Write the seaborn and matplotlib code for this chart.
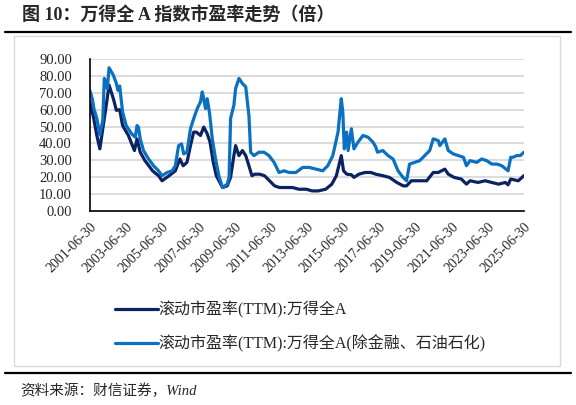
import matplotlib
matplotlib.use('Agg')
import matplotlib.pyplot as plt
import matplotlib.dates as mdates
from matplotlib.lines import Line2D
from matplotlib.patches import Rectangle
import pandas as pd
import seaborn as sns

# Dane (PE TTM)
dates_all = ['2001-07-02', '2001-09-15', '2001-11-15', '2002-01-15', '2002-03-15', '2002-05-15',
             '2002-07-20', '2002-10-15', '2002-12-15', '2003-02-20', '2003-04-20', '2003-08-15',
             '2003-12-15', '2004-02-05', '2004-04-10', '2004-07-15', '2004-12-15', '2005-04-15',
             '2005-06-25', '2005-11-15', '2006-03-20', '2006-06-20', '2006-08-25', '2006-11-10',
             '2007-01-20', '2007-03-25', '2007-05-20', '2007-08-10', '2007-10-15', '2007-12-25',
             '2008-02-20', '2008-04-25', '2008-06-25', '2008-10-28', '2009-02-01', '2009-04-10',
             '2009-06-15', '2009-07-20', '2009-09-25', '2009-12-05', '2010-02-10', '2010-04-15',
             '2010-06-15', '2010-08-15', '2010-11-15', '2011-02-25', '2011-06-05', '2011-09-15',
             '2011-12-25', '2012-04-15', '2012-09-15', '2013-01-15', '2013-06-15', '2013-10-15',
             '2014-02-15', '2014-07-15', '2014-11-15', '2015-02-15', '2015-05-25', '2015-07-10',
             '2015-09-15', '2015-12-15', '2016-02-05', '2016-05-15', '2016-09-15', '2017-01-15',
             '2017-04-20', '2017-09-10', '2018-01-20', '2018-06-20', '2018-10-25', '2019-01-03',
             '2019-04-10', '2019-09-15', '2020-02-15', '2020-06-25', '2020-10-05', '2021-02-15',
             '2021-04-25', '2021-08-20', '2022-01-15', '2022-04-27', '2022-07-10', '2022-12-15',
             '2023-05-10', '2023-09-20', '2024-02-05', '2024-06-20', '2024-08-15', '2024-10-08',
             '2025-03-10', '2025-06-30']
pe_all = [64.0, 54.6, 44.7, 36.8, 48.7, 60.6,
          74.5, 66.5, 59.6, 60.0, 50.6, 44.7,
          35.8, 42.7, 34.8, 29.8, 23.8, 20.9,
          17.9, 20.9, 23.8, 30.8, 26.8, 28.8,
          38.7, 46.7, 46.7, 44.7, 49.7, 45.7,
          40.7, 28.8, 20.9, 13.9, 14.9, 20.0,
          32.8, 38.7, 32.8, 35.8, 32.8, 26.8,
          20.9, 21.8, 21.8, 20.9, 17.9, 14.9,
          13.9, 13.9, 13.9, 12.9, 12.9, 11.9,
          11.9, 12.9, 15.9, 20.9, 32.8, 23.8,
          21.8, 21.5, 19.9, 21.8, 22.8, 22.8,
          21.8, 20.9, 19.9, 16.9, 14.9, 14.9,
          17.9, 17.9, 17.9, 22.8, 22.8, 24.8,
          21.8, 19.9, 18.9, 15.9, 17.9, 16.9,
          17.9, 16.9, 15.9, 16.9, 15.5, 18.9,
          17.9, 20.9]

dates_ex = ['2001-07-02', '2001-08-15', '2001-09-15', '2001-11-15', '2002-01-15', '2002-03-15',
            '2002-04-15', '2002-05-15', '2002-06-15', '2002-07-20', '2002-10-15', '2002-12-15',
            '2003-01-15', '2003-02-20', '2003-03-20', '2003-04-20', '2003-07-01', '2003-10-20',
            '2004-01-01', '2004-02-05', '2004-03-05', '2004-04-10', '2004-06-15', '2004-09-25',
            '2005-01-05', '2005-04-15', '2005-06-25', '2005-10-05', '2006-01-15', '2006-03-20',
            '2006-05-25', '2006-07-25', '2006-09-05', '2006-11-10', '2007-01-20', '2007-03-25',
            '2007-06-05', '2007-08-10', '2007-09-15', '2007-10-15', '2007-11-20', '2007-12-25',
            '2008-02-10', '2008-04-05', '2008-06-10', '2008-08-15', '2008-10-28', '2009-02-01',
            '2009-03-10', '2009-04-10', '2009-06-15', '2009-07-20', '2009-09-25', '2009-12-05',
            '2010-02-10', '2010-03-15', '2010-04-15', '2010-05-20', '2010-07-25', '2010-11-05',
            '2011-02-15', '2011-05-25', '2011-09-05', '2011-12-15', '2012-03-25', '2012-07-05',
            '2012-11-20', '2013-04-05', '2013-08-15', '2014-01-01', '2014-05-15', '2014-08-25',
            '2014-12-05', '2015-03-20', '2015-05-25', '2015-06-25', '2015-07-25', '2015-09-10',
            '2015-10-10', '2015-12-15', '2016-02-05', '2016-04-25', '2016-08-05', '2016-11-15',
            '2017-02-25', '2017-04-20', '2017-05-25', '2017-09-10', '2017-12-25', '2018-04-05',
            '2018-07-15', '2018-10-25', '2019-01-03', '2019-03-05', '2019-06-15', '2019-09-25',
            '2020-01-05', '2020-04-15', '2020-06-25', '2020-10-05', '2020-11-05', '2021-02-15',
            '2021-04-25', '2021-08-05', '2021-11-15', '2022-02-25', '2022-04-27', '2022-07-10',
            '2022-11-20', '2023-03-01', '2023-06-10', '2023-09-20', '2024-01-01', '2024-04-10',
            '2024-08-15', '2024-10-08', '2024-11-20', '2025-02-10', '2025-04-20', '2025-06-30']
pe_ex = [71.0, 66.5, 60.8, 54.8, 45.0, 53.6,
         78.5, 76.0, 72.5, 84.8, 80.4, 75.5,
         71.5, 74.0, 66.5, 58.6, 50.6, 45.7,
         43.7, 50.6, 49.6, 42.7, 35.8, 30.8,
         26.8, 23.8, 20.9, 22.8, 23.8, 26.8,
         38.7, 39.7, 33.8, 34.8, 48.7, 54.6,
         60.6, 64.6, 70.5, 66.5, 60.6, 66.5,
         57.8, 42.7, 30.8, 20.9, 13.9, 15.9,
         20.0, 54.8, 62.6, 72.5, 78.5, 75.5,
         73.5, 64.6, 56.6, 34.8, 32.8, 34.8,
         34.8, 32.8, 28.8, 22.8, 23.8, 22.8,
         22.8, 25.8, 25.8, 24.8, 23.8, 26.8,
         32.8, 46.7, 66.5, 58.6, 36.8, 46.7,
         35.8, 48.7, 36.8, 40.7, 44.7, 43.7,
         40.7, 38.0, 34.8, 35.8, 32.8, 30.8,
         23.8, 19.9, 17.9, 27.8, 28.8, 29.8,
         32.8, 35.8, 42.7, 41.7, 38.7, 42.7,
         35.8, 33.8, 32.8, 31.8, 26.8, 29.8,
         28.8, 30.8, 29.8, 27.8, 27.8, 26.8,
         23.8, 31.8, 31.8, 32.8, 32.8, 34.8]

label_all = '滚动市盈率(TTM):万得全A'
label_ex = '滚动市盈率(TTM):万得全A(除金融、石油石化)'
tick_dates = [f'{y}-06-30' for y in range(2001, 2026, 2)]
y_ticks = [0, 10, 20, 30, 40, 50, 60, 70, 80, 90]

df_all = pd.DataFrame({'date': pd.to_datetime(dates_all), 'pe': pe_all})
df_ex = pd.DataFrame({'date': pd.to_datetime(dates_ex), 'pe': pe_ex})

sns.set_theme(style='white')
plt.rcParams['font.family'] = ['Liberation Serif', 'Noto Sans CJK SC']
mixed = ['Liberation Serif', 'Noto Sans CJK SC']

W, H = 576, 405
fig = plt.figure(figsize=(W / 100, H / 100), dpi=100)
ax = fig.add_axes([90 / W, 1 - 211 / H, (524 - 90) / W, (211 - 59) / H])

sns.lineplot(data=df_all, x='date', y='pe', ax=ax, color='#0b2363', lw=2.3, label=label_all)
sns.lineplot(data=df_ex, x='date', y='pe', ax=ax, color='#0a70c2', lw=2.3, label=label_ex)

ax.set_xlim(pd.Timestamp('2001-06-30'), pd.Timestamp('2025-07-03'))
ax.set_ylim(0, 90)
ax.set_yticks(y_ticks)
ax.set_yticklabels([f'{v:.2f}' for v in y_ticks], fontsize=10.5)
ax.set_xticks(pd.to_datetime(tick_dates))
ax.xaxis.set_major_formatter(mdates.DateFormatter('%Y-%m-%d'))
plt.setp(ax.get_xticklabels(), rotation=45, ha='right', rotation_mode='anchor', fontsize=10)
ax.set_xlabel('')
ax.set_ylabel('')
ax.yaxis.grid(True, color='#d9d9d9', lw=1.3)
ax.xaxis.grid(False)
ax.set_axisbelow(True)
for s in ['top', 'right']:
    ax.spines[s].set_visible(False)
for s in ['left', 'bottom']:
    ax.spines[s].set_color('black')
    ax.spines[s].set_linewidth(1.2)
ax.tick_params(axis='y', direction='out', length=4, width=1, color='black', pad=9)
ax.tick_params(axis='x', direction='out', length=4, width=1, color='black', pad=3)

handles, labels = ax.get_legend_handles_labels()
ax.legend_.remove()
fig.legend(handles, labels, loc='center left', bbox_to_anchor=(107 / W, 1 - 327 / H),
           frameon=False, handlelength=2.7, handletextpad=0.0, labelspacing=1.0, borderpad=0,
           prop={'family': mixed, 'size': 11.5})

# Ramka i linie
fig.add_artist(Rectangle((14 / W, 1 - 366 / H), (560 - 14) / W, (366 - 36) / H,
                         fill=False, edgecolor='#d9d9d9', lw=1, transform=fig.transFigure))
fig.add_artist(Line2D([5 / W, 571 / W], [1 - 32 / H] * 2, color='black', lw=1.6))
fig.add_artist(Line2D([5 / W, 571 / W], [1 - 373 / H] * 2, color='black', lw=1.6))

fig.text(22 / W, 1 - 15 / H, '图 10：万得全 A 指数市盈率走势（倍）', va='center', ha='left',
         fontsize=13, fontweight='bold', family=mixed)
fig.text(20 / W, 1 - 391 / H, '资料来源：财信证券，Wind', va='center', ha='left',
         fontsize=10.5, style='italic', family=mixed)

fig.savefig('out.png', dpi=100)
